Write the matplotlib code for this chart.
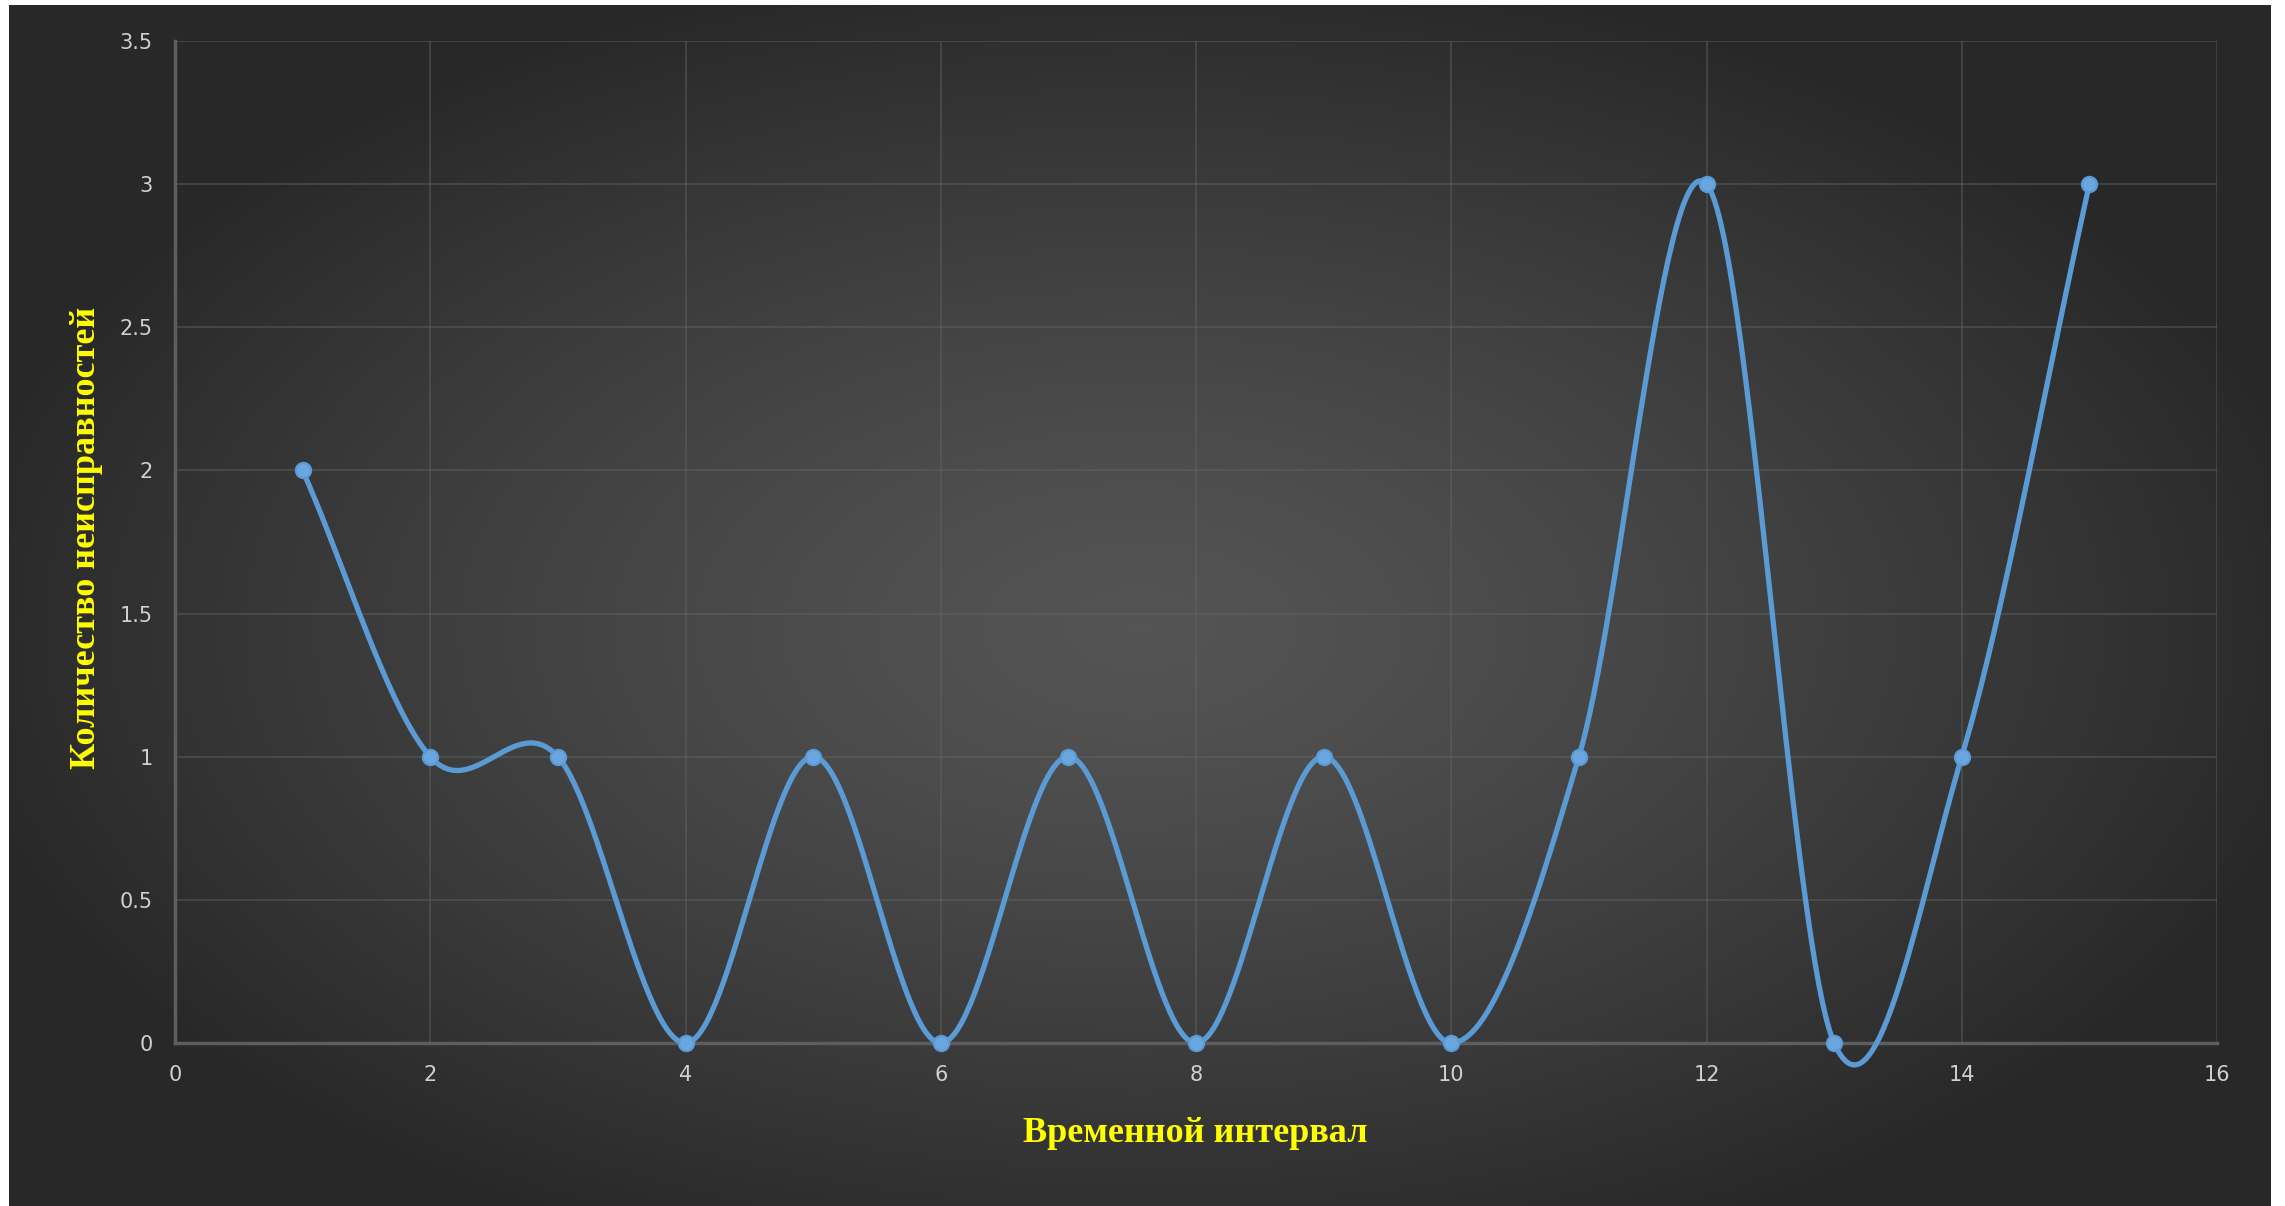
import matplotlib
matplotlib.use("Agg")
import matplotlib.pyplot as plt
import numpy as np
from matplotlib.ticker import FuncFormatter, MultipleLocator

# data
intervals = np.array([1, 2, 3, 4, 5, 6, 7, 8, 9, 10, 11, 12, 13, 14, 15])
faults = np.array([2, 1, 1, 0, 1, 0, 1, 0, 1, 0, 1, 3, 0, 1, 3], dtype=float)

x_label = "Временной интервал"
y_label = "Количество неисправностей"


def smooth_line(x, y, n=60):
    """Catmull-Rom style smoothing like Excel's 'smoothed line'."""
    m = np.zeros_like(y)
    m[1:-1] = (y[2:] - y[:-2]) / (x[2:] - x[:-2])
    m[0] = (y[1] - y[0]) / (x[1] - x[0])
    m[-1] = (y[-1] - y[-2]) / (x[-1] - x[-2])
    xs, ys = [], []
    for i in range(len(x) - 1):
        h = x[i + 1] - x[i]
        t = np.linspace(0, 1, n, endpoint=(i == len(x) - 2))
        h00 = 2 * t**3 - 3 * t**2 + 1
        h10 = t**3 - 2 * t**2 + t
        h01 = -2 * t**3 + 3 * t**2
        h11 = t**3 - t**2
        xs.append(x[i] + t * h)
        ys.append(h00 * y[i] + h10 * h * m[i] + h01 * y[i + 1] + h11 * h * m[i + 1])
    return np.concatenate(xs), np.concatenate(ys)


W, H = 2285, 1206
fig = plt.figure(figsize=(W / 100, H / 100), dpi=100, facecolor="white")

# dark radial gradient background (thin white margins left/top/right)
bg = fig.add_axes([9 / W, -0.01, (2271 - 9) / W, (H - 5) / H + 0.01])
gx, gy = np.meshgrid(np.linspace(-1, 1, 600), np.linspace(-1, 1, 320))
r = np.sqrt((gx / 1.05) ** 2 + ((gy - 0.03) / 1.1) ** 2)
shade = 0.33 - 0.17 * np.clip(r, 0, 1) ** 1.3
bg.imshow(np.dstack([shade] * 3), aspect="auto", extent=[0, 1, 0, 1],
          interpolation="bilinear")
bg.set_xlim(0, 1)
bg.set_ylim(0, 1)
bg.set_axis_off()

ax = fig.add_axes([175 / W, 163 / H, (2217 - 175) / W, (1165 - 163) / H])
ax.patch.set_alpha(0)

xs, ys = smooth_line(intervals.astype(float), faults)
ax.plot(xs, ys, color="#5b9bd5", lw=3.8, solid_capstyle="round", zorder=3, clip_on=False)
ax.plot(intervals, faults, "o", color="#6aa6e0", ms=11, mec="#5b9bd5", mew=1.5,
        zorder=4, clip_on=False)

ax.set_xlim(0, 16)
ax.set_ylim(0, 3.5)
ax.xaxis.set_major_locator(MultipleLocator(2))
ax.yaxis.set_major_locator(MultipleLocator(0.5))
ax.xaxis.set_major_formatter(FuncFormatter(lambda v, p: "%g" % v))
ax.yaxis.set_major_formatter(FuncFormatter(lambda v, p: "%g" % v))

ax.grid(True, color="#666666", lw=1.3, alpha=0.45)
ax.set_axisbelow(True)
for s in ["top", "right"]:
    ax.spines[s].set_visible(False)
for s in ["left", "bottom"]:
    ax.spines[s].set_color("#5e5e5e")
    ax.spines[s].set_linewidth(2.5)

ax.tick_params(length=0, colors="#d0d0d0", labelsize=15, pad=16)

label_font = dict(family="Liberation Serif", weight="bold", size=26, color="#ffff00")
fig.text(1195 / W, 1 - 1133 / H, x_label, ha="center", va="center", **label_font)
fig.text(87 / W, 1 - 538 / H, y_label, ha="center", va="center", rotation=90, **label_font)

fig.savefig("out.png", dpi=100, facecolor=fig.get_facecolor())
